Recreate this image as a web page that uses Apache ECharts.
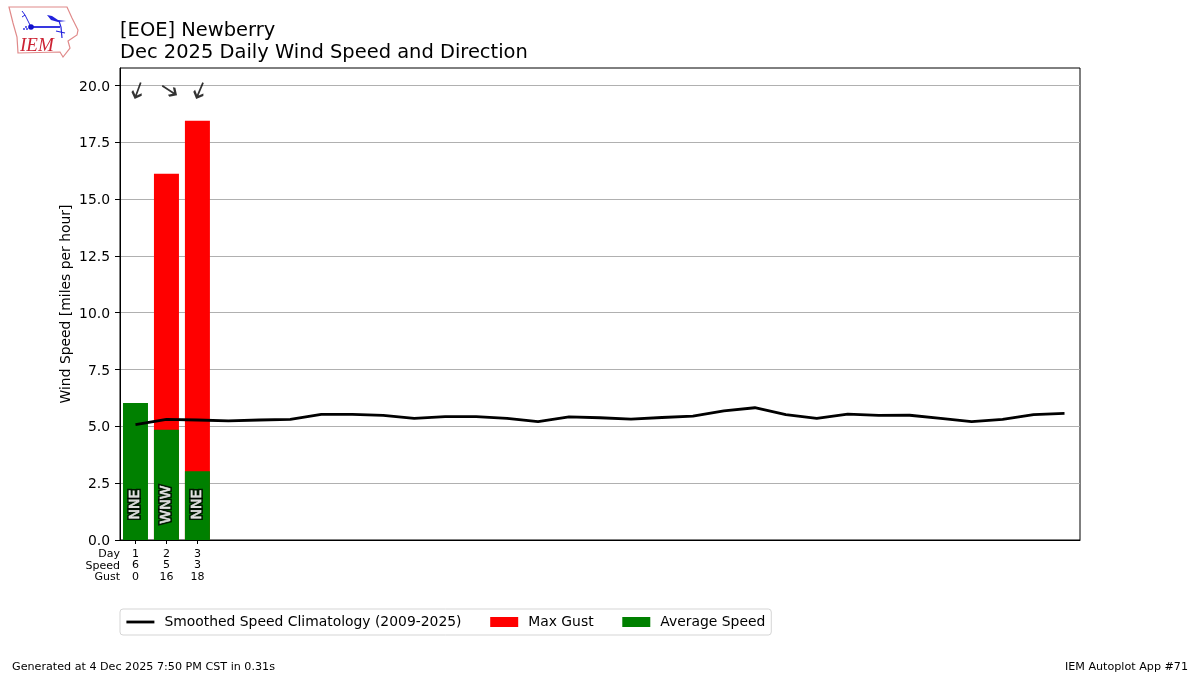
<!DOCTYPE html>
<html><head><meta charset="utf-8">
<style>html,body{margin:0;padding:0;background:#fff}#c{width:1200px;height:675px}</style>
<script src="https://cdn.jsdelivr.net/npm/echarts@6/dist/echarts.min.js"></script>
</head><body><div id="c"></div>
<script>
const days = ['1','2','3','4','5','6','7','8','9','10','11','12','13','14','15','16','17','18','19','20','21','22','23','24','25','26','27','28','29','30','31'];
const avgSpeed = [6.03,4.85,3.03];
const maxGust = [0,16.12,18.45];
const speedLabels = ['6','5','3'];
const gustLabels = ['0','16','18'];
const dirLabels = ['NNE','WNW','NNE'];
const dirHeading = [200,123,203];
const climatology = [5.08,5.31,5.28,5.24,5.28,5.31,5.53,5.53,5.48,5.35,5.43,5.43,5.35,5.21,5.42,5.38,5.32,5.39,5.45,5.68,5.82,5.52,5.35,5.54,5.48,5.49,5.35,5.21,5.31,5.52,5.57];
const yTicks = [0,2.5,5,7.5,10,12.5,15,17.5,20];
const F = 'DejaVu Sans';
const chart = echarts.init(document.getElementById('c'),null,{renderer:'canvas'});
const shown = (i)=> i < avgSpeed.length;
const txt=(x,y,t,o)=>({type:'text',x,y,silent:true,style:Object.assign({text:t,fontFamily:F,fontSize:11,fill:'#000'},o||{})});
const blue='#2222dd';
const logoLine=(pts,w,c)=>({type:'polyline',silent:true,shape:{points:pts},style:{stroke:c||blue,lineWidth:w||1,fill:null}});
const dirLabelBase={show:true,position:'inside',rotate:90,formatter:p=>p.data[2],fontFamily:F,fontSize:14};
chart.setOption({
  animation:false,
  backgroundColor:'#fff',
  textStyle:{fontFamily:F},
  title:[{left:120,top:20,padding:0,text:'[EOE] Newberry\nDec 2025 Daily Wind Speed and Direction',
    textStyle:{fontFamily:F,fontSize:19.47,fontWeight:'normal',color:'#000',lineHeight:22}}],
  grid:{left:120,top:68,width:960,height:472,show:true,borderColor:'#000',borderWidth:1,backgroundColor:'#fff',containLabel:false},
  legend:{left:120,top:609,padding:[6,6,6,5],itemGap:28.7,itemWidth:28,itemHeight:10,borderColor:'#d5d5d5',borderWidth:1,borderRadius:3,
    textStyle:{fontFamily:F,fontSize:13.9,color:'#000',padding:[0,0,0,5]},selectedMode:false,
    data:[{name:'Smoothed Speed Climatology (2009-2025)',itemStyle:{color:'transparent',borderWidth:0,opacity:0},lineStyle:{width:2.8,color:'#000'}},{name:'Max Gust',icon:'rect'},{name:'Average Speed',icon:'rect'}]},
  xAxis:{type:'category',data:days,boundaryGap:true,
    axisLine:{show:true,lineStyle:{color:'#000',width:1}},
    axisTick:{show:true,alignWithLabel:true,length:4,interval:(i)=>shown(i),lineStyle:{color:'#000'}},
    splitLine:{show:false},
    axisLabel:{show:true,interval:(i)=>shown(i),margin:8,fontFamily:F,fontSize:11,color:'#000',lineHeight:11.7,
      formatter:(v,i)=>shown(i)?days[i]+'\n'+speedLabels[i]+'\n'+gustLabels[i]:''}},
  yAxis:{type:'value',min:0,max:20.77,
    name:'Wind Speed [miles per hour]',nameLocation:'middle',nameGap:47,nameRotate:90,nameMoveOverlap:false,
    nameTextStyle:{fontFamily:F,fontSize:13.9,color:'#000'},
    axisLine:{show:true,lineStyle:{color:'#000'}},
    axisTick:{show:true,length:5,customValues:yTicks,lineStyle:{color:'#000'}},
    axisLabel:{customValues:yTicks,margin:10,verticalAlign:'top',lineHeight:3,fontFamily:F,fontSize:13.9,color:'#000',formatter:v=>v.toFixed(1)},
    splitLine:{show:true,lineStyle:{color:'#b0b0b0',width:1}}},
  series:[
    {name:'Max Gust',type:'bar',data:maxGust,barWidth:25,barGap:'-100%',itemStyle:{color:'#ff0000'},z:3},
    {name:'Average Speed',type:'bar',data:avgSpeed,barWidth:25,barGap:'-100%',itemStyle:{color:'#008000'},z:4},
    {name:'Smoothed Speed Climatology (2009-2025)',type:'line',data:climatology,showSymbol:false,symbol:'none',
      lineStyle:{color:'#000',width:2.8},itemStyle:{color:'#000'},z:6},
    {name:'dirOutline',type:'scatter',data:dirLabels.map((d,i)=>[i,1.56,d]),symbolSize:1,itemStyle:{color:'transparent'},z:7,
      label:Object.assign({},dirLabelBase,{color:'#000',textBorderColor:'#000',textBorderWidth:3.8})},
    {name:'dirText',type:'scatter',data:dirLabels.map((d,i)=>[i,1.56,d]),symbolSize:1,itemStyle:{color:'transparent'},z:8,
      label:Object.assign({},dirLabelBase,{color:'#fff',textBorderColor:'#fff',textBorderWidth:0.7})},
    {name:'dirArrow',type:'scatter',data:dirHeading.map((h,i)=>({value:[i,19.8],symbolRotate:-h,symbolOffset:[2.5,0]})),
      symbol:'path://M6 22 L6 0 M0 7 L6 0 L12 7',symbolSize:[10,16],
      itemStyle:{color:'transparent',borderColor:'#000',borderWidth:2.2},z:9}
  ],
  graphic:{elements:[
    txt(120,554,'Day',{textAlign:'right',textVerticalAlign:'middle'}),
    txt(120,566,'Speed',{textAlign:'right',textVerticalAlign:'middle'}),
    txt(120,577.5,'Gust',{textAlign:'right',textVerticalAlign:'middle'}),
    txt(12,667,'Generated at 4 Dec 2025 7:50 PM CST in 0.31s',{textVerticalAlign:'middle',fontSize:11.15}),
    txt(1188,667,'IEM Autoplot App #71',{textAlign:'right',textVerticalAlign:'middle',fontSize:11.15}),
    {type:'polygon',silent:true,shape:{points:[[9,7],[67,7],[72,18],[78,30],[77,35],[68,41],[70,48],[63,57],[60,52],[18,53],[17,37],[13,23]]},
      style:{stroke:'#e08a8a',lineWidth:1.2,fill:'#fff'}},
    logoLine([[31,27],[60,27]],1.8),
    {type:'polygon',silent:true,shape:{points:[[47,15],[52,16],[58,20],[66,21],[58,22],[51,20]]},style:{fill:blue}},
    logoLine([[59,21],[61,27],[62,38]],1.2),
    logoLine([[56,31],[65,33]],1.1),
    logoLine([[31,27],[25,15],[22,11]],1),
    logoLine([[25,15],[22,17]],1),
    {type:'circle',silent:true,shape:{cx:31,cy:27,r:2.8},style:{fill:'#1111cc'}},
    {type:'circle',silent:true,shape:{cx:26,cy:27,r:0.9},style:{fill:blue}},
    {type:'circle',silent:true,shape:{cx:24,cy:29,r:0.9},style:{fill:blue}},
    {type:'circle',silent:true,shape:{cx:27,cy:29,r:0.9},style:{fill:blue}},
    txt(20,46,'IEM',{fontFamily:'Liberation Serif',fontStyle:'italic',fontSize:19,fill:'#cc2233',textVerticalAlign:'middle'})
  ]}
});
</script></body></html>
